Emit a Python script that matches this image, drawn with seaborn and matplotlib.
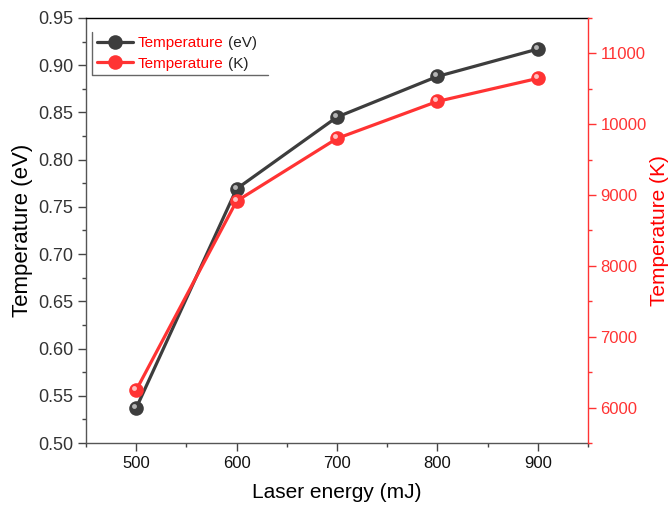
import seaborn as sns
import matplotlib.pyplot as plt
from matplotlib.ticker import MultipleLocator
from matplotlib.transforms import offset_copy
from matplotlib.lines import Line2D

# data
energy = [500, 600, 700, 800, 900]
temp_ev = [0.537, 0.769, 0.845, 0.888, 0.917]
temp_k = [6246, 8914, 9798, 10321, 10646]

sns.set_style("ticks")
plt.rcParams['font.family'] = ['Liberation Sans', 'DejaVu Sans']

dark = '#3d3d3d'
red = '#ff3333'

fig = plt.figure(figsize=(6.68, 5.11), dpi=100)
ax = fig.add_axes([0.1287, 0.133, 0.7515, 0.832])
ax2 = ax.twinx()

# eV series
sns.lineplot(x=energy, y=temp_ev, ax=ax, color=dark, lw=2.3, marker='o',
             markersize=10.5, markeredgewidth=0, label='Temperature', legend=False)
ax.plot(energy, temp_ev, ls='none', marker='o', ms=3.5, color='#b5b5b5', mew=0,
        transform=offset_copy(ax.transData, fig=fig, x=-2, y=2, units='dots'))

# K series
sns.lineplot(x=energy, y=temp_k, ax=ax2, color=red, lw=2.3, marker='o',
             markersize=10.5, markeredgewidth=0, label='Temperature', legend=False)
ax2.plot(energy, temp_k, ls='none', marker='o', ms=3.5, color='#ffc0c0', mew=0,
         transform=offset_copy(ax2.transData, fig=fig, x=-2, y=2, units='dots'))

ax.set_xlim(450, 950)
ax.set_ylim(0.50, 0.95)
ax2.set_ylim(5500, 11500)
ax.xaxis.set_major_locator(MultipleLocator(100))
ax.xaxis.set_minor_locator(MultipleLocator(50))
ax.yaxis.set_major_locator(MultipleLocator(0.05))
ax.yaxis.set_minor_locator(MultipleLocator(0.025))
ax2.yaxis.set_major_locator(MultipleLocator(1000))
ax2.yaxis.set_minor_locator(MultipleLocator(500))
ax.yaxis.set_major_formatter(plt.FormatStrFormatter('%.2f'))

ax.tick_params(which='major', direction='out', length=5.5, width=1, colors='#444444',
               labelsize=12, labelcolor='#333333')
ax.tick_params(which='minor', direction='out', length=3, width=1, colors='#444444')
ax.tick_params(axis='y', labelsize=13)
ax.tick_params(axis='x', labelcolor='#111111')
ax2.tick_params(which='major', direction='out', length=5.5, width=1, colors=red,
                labelsize=12, labelcolor=red)
ax2.tick_params(which='minor', direction='out', length=3, width=1, colors=red)

for s in ['left', 'bottom']:
    ax.spines[s].set_color('#555555')
ax.spines['top'].set_color('black')
ax.spines['right'].set_visible(False)
ax2.spines['left'].set_visible(False)
ax2.spines['top'].set_visible(False)
ax2.spines['bottom'].set_visible(False)
ax2.spines['right'].set_color(red)
for s in ax.spines.values():
    s.set_linewidth(1)
ax2.spines['right'].set_linewidth(1)

ax.set_xlabel('Laser energy (mJ)', fontsize=15, color='black', labelpad=9)
ax.set_ylabel('Temperature (eV)', fontsize=16, color='black', labelpad=4)
ax2.set_ylabel('Temperature (K)', fontsize=15, color='#ff0000', labelpad=2)

handles = [ax.lines[0], ax2.lines[0]]
leg = ax2.legend(handles, ['Temperature', 'Temperature'], loc='upper left',
                 bbox_to_anchor=(0.012, 0.967), borderaxespad=0, borderpad=0.3,
                 frameon=False, fontsize=11, handlelength=2.4, handletextpad=0.3,
                 labelspacing=0.4)
for t in leg.get_texts():
    t.set_color('#ff0000')

fig.canvas.draw()
inv = fig.transFigure.inverted()
for t, unit in zip(leg.get_texts(), ['(eV)', '(K)']):
    bb = t.get_window_extent()
    x, y = inv.transform((bb.x1 + 4, bb.y0))
    fig.text(x, y, unit, fontsize=11, color='#222222', va='bottom', ha='left')

# legend frame drawn only on left and bottom like the original
lb = leg.get_window_extent()
x0, y0 = inv.transform((lb.x0, lb.y0))
x1, y1 = inv.transform((lb.x1 + 40, lb.y1))
fig.add_artist(Line2D([x0, x0, x1], [y1, y0, y0], color='#666666', lw=1))

fig.savefig('out.png', dpi=100)
